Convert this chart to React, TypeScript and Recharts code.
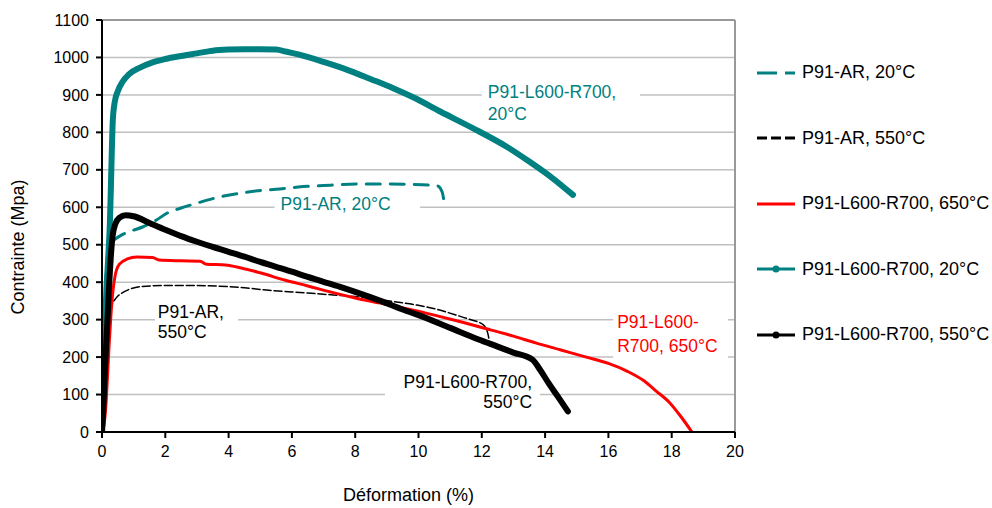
// P91 - courbes de traction contrainte / déformation (Recharts lignes)
import React from 'react';
import {
  LineChart, Line, XAxis, YAxis, CartesianGrid,
  ReferenceLine, ReferenceArea, Legend,
} from 'recharts';

// [déformation %, contrainte MPa]
const arAt20: [number, number][] = [
  [0, 0], [0.04, 150], [0.08, 300], [0.13, 420], [0.2, 485], [0.3, 505], [0.45, 517],
  [0.6, 525], [0.9, 536], [1.3, 548], [1.7, 565], [2.05, 584], [2.5, 598], [3, 611],
  [3.5, 623], [3.85, 630], [4.4, 638], [4.9, 644], [5.5, 648], [6.2, 654], [7, 658],
  [8.15, 662], [9, 662], [9.8, 661], [10.6, 657], [10.75, 640], [10.8, 618],
];

const arAt550: [number, number][] = [
  [0, 0], [0.08, 100], [0.15, 220], [0.22, 300], [0.3, 335], [0.45, 358], [0.65, 372],
  [0.9, 382], [1.2, 388], [2, 391], [3, 391], [4, 388], [4.5, 385], [5.2, 379], [6, 374],
  [7.3, 366], [8.2, 360], [9.3, 347], [9.95, 339], [10.6, 327], [11.2, 312], [11.6, 301],
  [12.05, 286], [12.2, 260], [12.25, 230],
];

const l600At650: [number, number][] = [
  [0, 0], [0.08, 30], [0.13, 80], [0.18, 160], [0.23, 240], [0.28, 310], [0.35, 380],
  [0.42, 420], [0.55, 448], [0.8, 462], [1.1, 467], [1.6, 466], [1.8, 459], [2.5, 457],
  [3.1, 456], [3.3, 448], [3.9, 446], [4.4, 438], [5, 425], [5.8, 405], [6.5, 390],
  [7.3, 372], [8, 358], [8.8, 344], [9.8, 326], [10.5, 312], [11.3, 295], [12.3, 272],
  [13, 256], [13.7, 238], [14.5, 219], [15.3, 200], [16, 183], [16.6, 162], [17.1, 138],
  [17.5, 110], [17.95, 77], [18.3, 40], [18.64, 0],
];

const l600At20: [number, number][] = [
  [0, 0], [0.03, 100], [0.08, 250], [0.14, 380], [0.2, 470], [0.25, 560], [0.28, 650],
  [0.31, 750], [0.34, 830], [0.4, 880], [0.5, 910], [0.65, 935], [0.85, 955], [1.2, 973],
  [1.6, 987], [2, 996], [2.5, 1004], [3, 1011], [3.5, 1018], [4, 1021], [4.5, 1022],
  [5, 1022], [5.5, 1021], [5.8, 1016], [6.2, 1008], [7, 988], [7.75, 967], [8.5, 942],
  [9.2, 918], [9.85, 893], [10.7, 855], [11.7, 812], [12.8, 761], [13.5, 722],
  [14.2, 680], [14.88, 633],
];

const l600At550: [number, number][] = [
  [0, 0], [0.04, 60], [0.08, 140], [0.13, 230], [0.18, 310], [0.23, 400], [0.28, 470],
  [0.33, 520], [0.42, 555], [0.55, 572], [0.75, 579], [1, 576], [1.5, 558], [2, 540],
  [2.5, 523], [3, 508], [3.5, 494], [4, 481], [4.5, 468], [5, 454], [5.5, 441], [6, 428],
  [6.5, 414], [7, 401], [7.5, 388], [8, 374], [8.8, 350], [9.5, 327], [10, 312],
  [11, 278], [11.9, 247], [12.5, 228], [13, 212], [13.6, 193], [13.85, 165], [14.1, 132],
  [14.4, 95], [14.72, 55],
];

const xTicks = [0, 2, 4, 6, 8, 10, 12, 14, 16, 18, 20];
const yTicks = [0, 100, 200, 300, 400, 500, 600, 700, 800, 900, 1000, 1100];

const TEAL = '#008080';
const RED = '#FF0000';
const FONT = '"Liberation Sans", Arial, sans-serif';

const toPoints = (pts: [number, number][]) => pts.map(([x, y]) => ({ x, y }));

const series = [
  { key: 'arAt20', name: 'P91-AR, 20°C', data: arAt20, color: TEAL, width: 3, dash: '14 10', dot: false, legendDash: '20 8' },
  { key: 'arAt550', name: 'P91-AR, 550°C', data: arAt550, color: '#000', width: 1.5, dash: '8 3', dot: false, legendDash: '10 4' },
  { key: 'l600At650', name: 'P91-L600-R700, 650°C', data: l600At650, color: RED, width: 3, dash: undefined, dot: false, legendDash: undefined },
  { key: 'l600At20', name: 'P91-L600-R700, 20°C', data: l600At20, color: TEAL, width: 6, dash: undefined, dot: true, legendDash: undefined },
  { key: 'l600At550', name: 'P91-L600-R700, 550°C', data: l600At550, color: '#000', width: 6, dash: undefined, dot: true, legendDash: undefined },
];

// étiquettes dans le tracé (boîte blanche qui masque la grille)
const notes = [
  { lines: ['P91-L600-R700,', '20°C'], color: TEAL, x1: 12.0, x2: 17.0, y1: 830, y2: 940, anchor: 'start', pad: 6, base: 18, gap: 22 },
  { lines: ['P91-AR, 20°C'], color: TEAL, x1: 5.45, x2: 10.05, y1: 580, y2: 633, anchor: 'start', pad: 6, base: 15, gap: 22 },
  { lines: ['P91-AR,', '550°C'], color: '#000', x1: 1.67, x2: 4.3, y1: 238, y2: 352, anchor: 'start', pad: 3, base: 18, gap: 20 },
  { lines: ['P91-L600-', 'R700, 650°C'], color: RED, x1: 16.15, x2: 19.78, y1: 187, y2: 336, anchor: 'start', pad: 4, base: 22, gap: 24 },
  { lines: ['P91-L600-R700,', '550°C'], color: '#000', x1: 8.94, x2: 13.84, y1: 51, y2: 160, anchor: 'end', pad: 8, base: 16, gap: 20 },
];

function NoteText(props: any, note: any) {
  const vb = props.viewBox || {};
  const tx = note.anchor === 'end' ? vb.x + vb.width - note.pad : vb.x + note.pad;
  return (
    <text x={tx} y={vb.y + note.base} fill={note.color} textAnchor={note.anchor}
      style={{ fontFamily: FONT, fontSize: 17.5 }}>
      {note.lines.map((l: string, i: number) => (
        <tspan key={i} x={tx} y={vb.y + note.base + i * note.gap}>{l}</tspan>
      ))}
    </text>
  );
}

function LegendBox() {
  return (
    <div style={{ fontFamily: FONT, fontSize: 18 }}>
      {series.map((s) => (
        <div key={s.key} style={{ display: 'flex', alignItems: 'center', height: 65.5 }}>
          <svg width={45} height={12} style={{ display: 'block' }}>
            <line x1={0} y1={6} x2={38} y2={6} stroke={s.color}
              strokeWidth={3} strokeDasharray={s.legendDash} />
            {s.dot && <circle cx={19} cy={6} r={3.5} fill={s.color} />}
          </svg>
          <span style={{ color: '#000', whiteSpace: 'nowrap' }}>{s.name}</span>
        </div>
      ))}
    </div>
  );
}

export default function App() {
  return (
    <div style={{ position: 'absolute', left: 0, top: 0, background: '#fff' }}>
      <LineChart width={992} height={508} margin={{ top: 20, right: 257, bottom: 0, left: 0 }}>
        <CartesianGrid vertical={false} stroke="#C0C0C0" strokeWidth={1.5} />

        {notes.map((n, i) => (
          <ReferenceArea key={i} x1={n.x1} x2={n.x2} y1={n.y1} y2={n.y2}
            fill="#fff" fillOpacity={1} stroke="none" ifOverflow="visible"
            label={(p: any) => NoteText(p, n)} />
        ))}

        <ReferenceLine y={1100} stroke="#999" strokeWidth={2} />
        <ReferenceLine x={20} stroke="#999" strokeWidth={2} />

        <XAxis
          type="number"
          dataKey="x"
          domain={[0, 20]}
          ticks={xTicks}
          allowDataOverflow
          height={76}
          axisLine={{ stroke: '#000', strokeWidth: 2 }}
          tickLine={{ stroke: '#000', strokeWidth: 2 }}
          tickSize={6}
          tickMargin={8}
          tick={{ fontSize: 16, fill: '#000', fontFamily: FONT }}
          label={{
            content: (p: any) => (
              <text x={p.viewBox.x + p.viewBox.width / 2 - 10} y={p.viewBox.y + 69}
                textAnchor="middle" fill="#000" style={{ fontFamily: FONT, fontSize: 18 }}>
                Déformation (%)
              </text>
            ),
          }}
        />
        <YAxis
          type="number"
          domain={[0, 1100]}
          ticks={yTicks}
          allowDataOverflow
          width={102}
          axisLine={{ stroke: '#000', strokeWidth: 2 }}
          tickLine={{ stroke: '#000', strokeWidth: 2 }}
          tickSize={6}
          tickMargin={7}
          tick={{ fontSize: 16, fill: '#000', fontFamily: FONT }}
          label={{
            content: () => (
              <text x={24} y={247} transform="rotate(-90 24 247)" textAnchor="middle"
                fill="#000" style={{ fontFamily: FONT, fontSize: 18 }}>
                Contrainte (Mpa)
              </text>
            ),
          }}
        />

        <Legend
          layout="horizontal"
          align="center"
          verticalAlign="middle"
          wrapperStyle={{ left: 757, top: 40, width: 235 }}
          content={() => <LegendBox />}
        />

        {series.map((s) => (
          <Line
            key={s.key}
            data={toPoints(s.data)}
            dataKey="y"
            name={s.name}
            type="monotone"
            stroke={s.color}
            strokeWidth={s.width}
            strokeDasharray={s.dash}
            strokeLinecap="round"
            strokeLinejoin="round"
            dot={false}
            activeDot={false}
            isAnimationActive={false}
          />
        ))}
      </LineChart>
    </div>
  );
}
